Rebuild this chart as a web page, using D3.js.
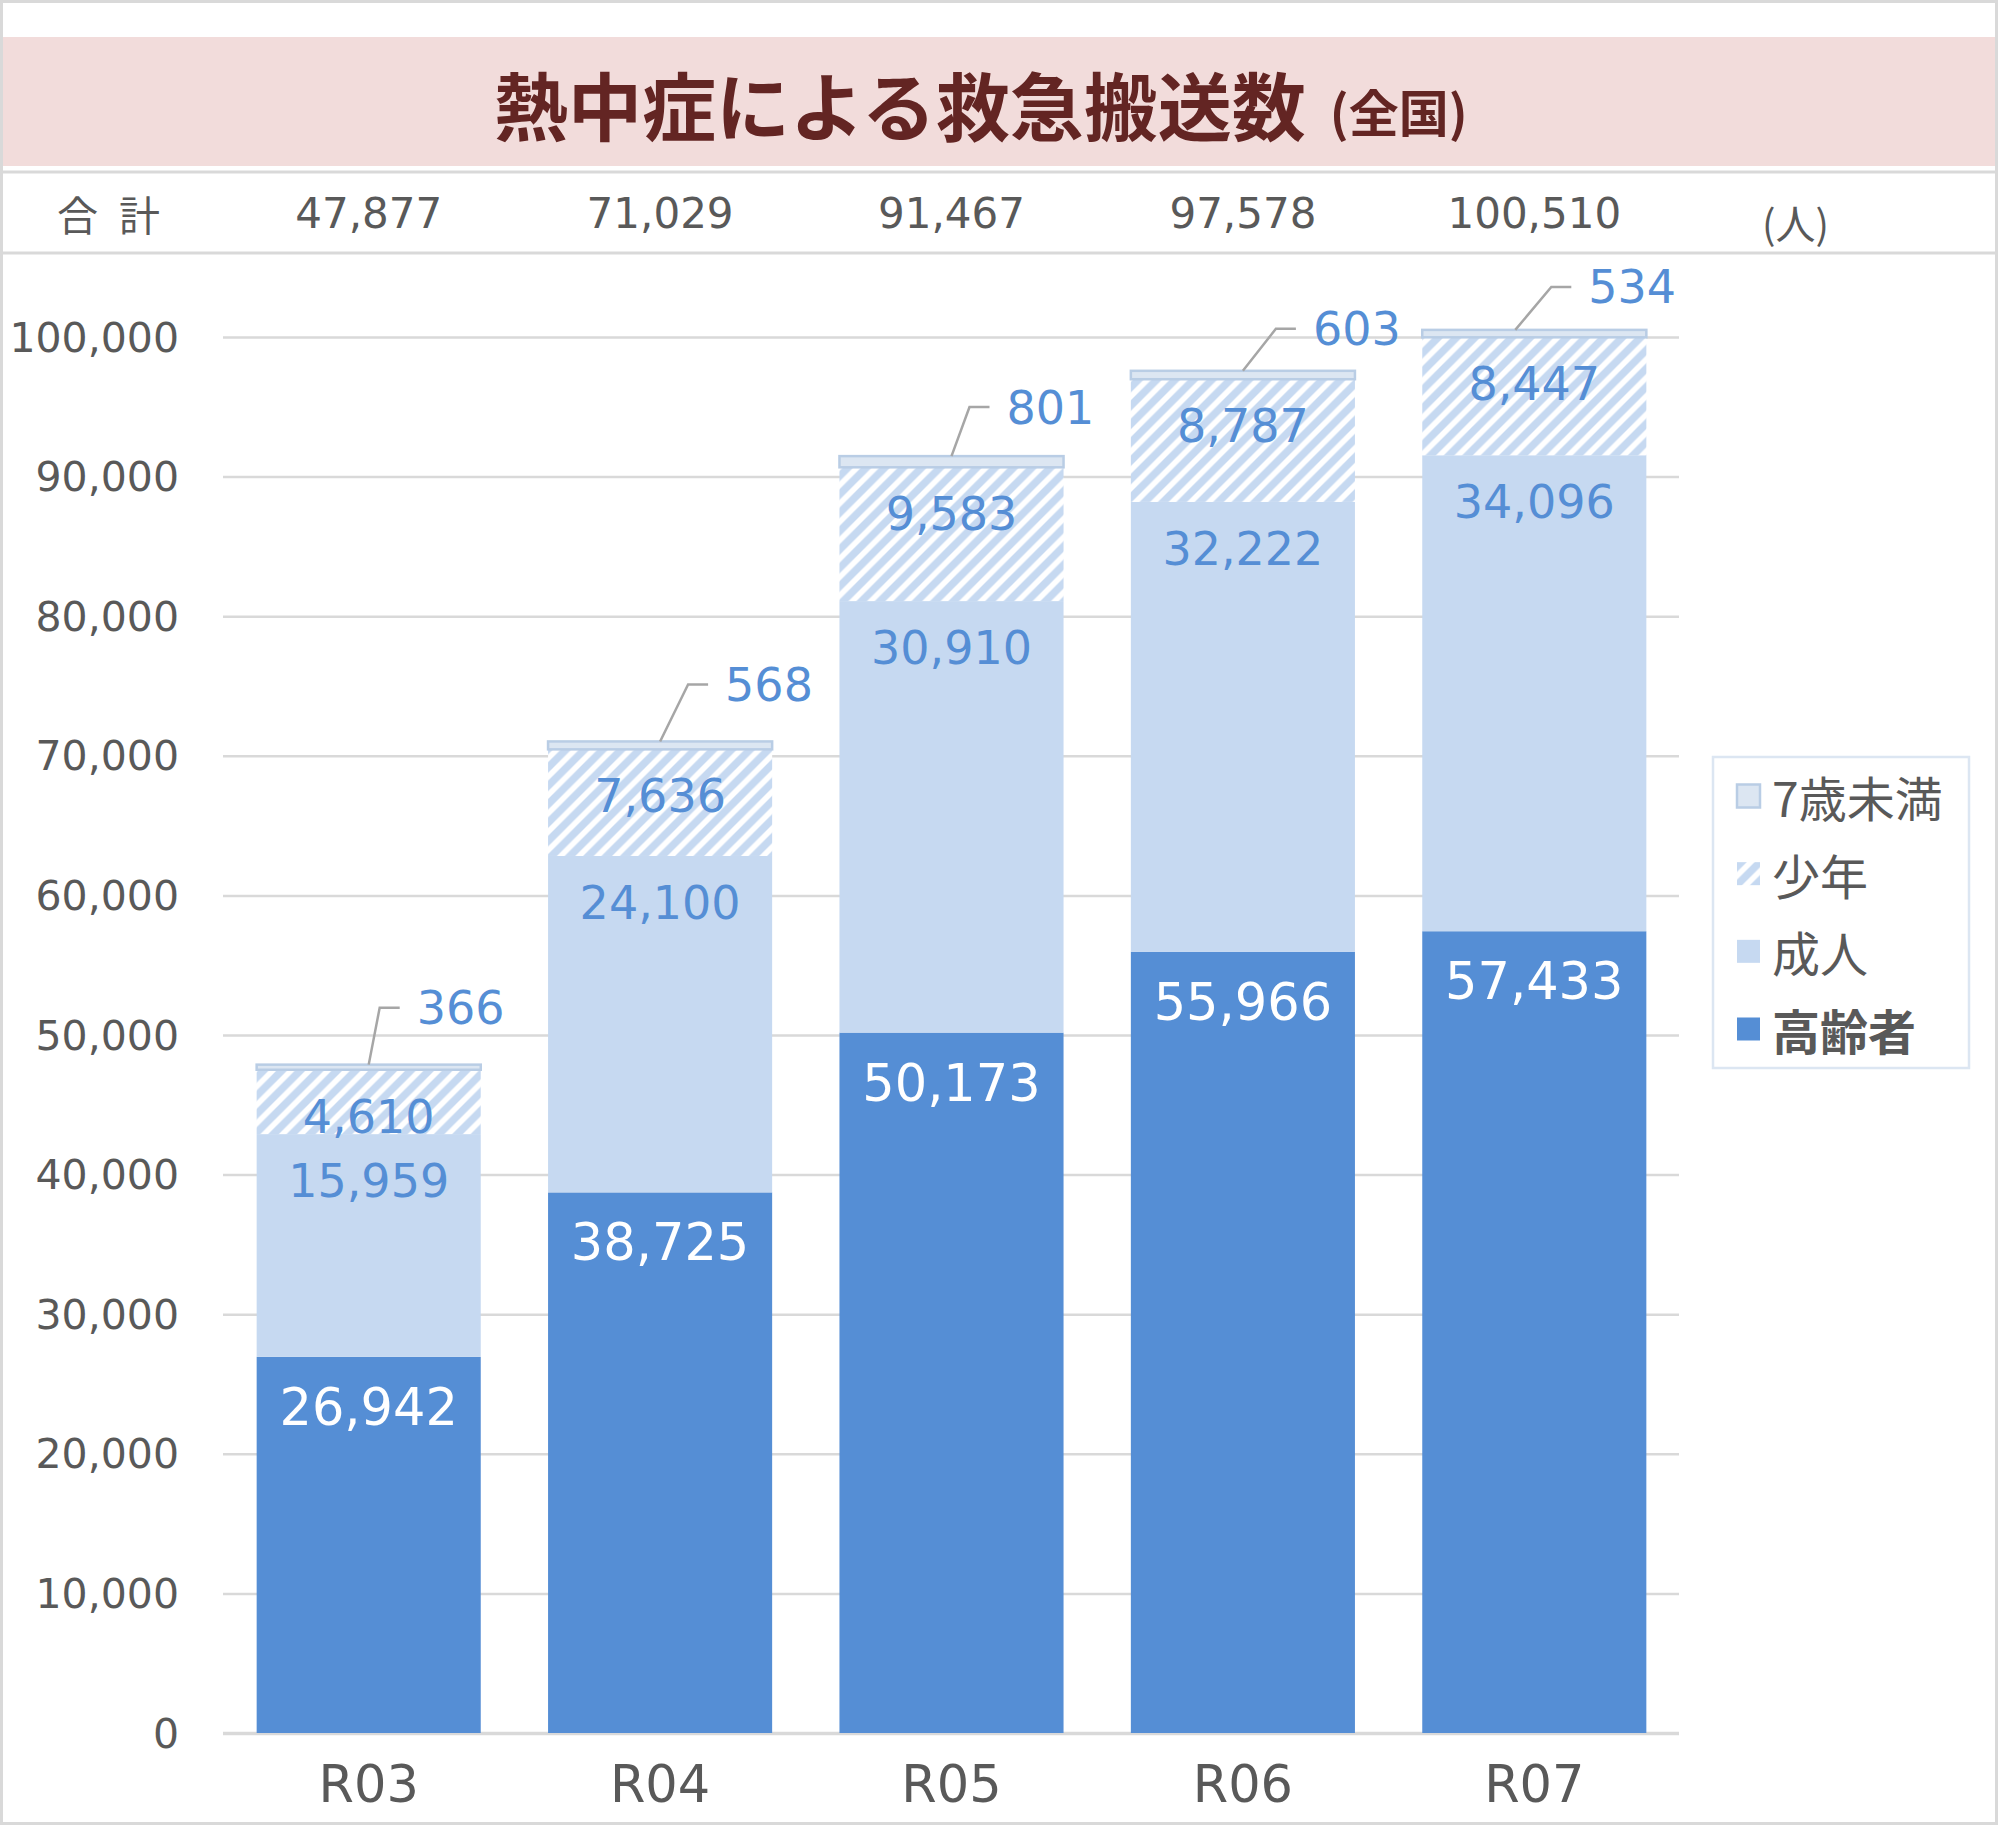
<!DOCTYPE html>
<html>
<head>
<meta charset="utf-8">
<script src="https://cdn.jsdelivr.net/npm/d3@7"></script>
<style>
  html, body { margin: 0; padding: 0; background: #fff; }
  svg { display: block; }
</style>
</head>
<body>
<div id="chart"></div>
<script>
// ---- data ----
const categories = ["R03", "R04", "R05", "R06", "R07"];
const elderly = [26942, 38725, 50173, 55966, 57433];   // 高齢者
const adult   = [15959, 24100, 30910, 32222, 34096];   // 成人
const youth   = [4610, 7636, 9583, 8787, 8447];        // 少年
const infant  = [366, 568, 801, 603, 534];             // 7歳未満
const totals  = [47877, 71029, 91467, 97578, 100510];  // 合計
const seriesKeys = ["高齢者", "成人", "少年", "7歳未満"];
const legendOrder = ["7歳未満", "少年", "成人", "高齢者"];
const yTickValues = [0, 10000, 20000, 30000, 40000, 50000, 60000, 70000, 80000, 90000, 100000];
const titleMain = "熱中症による救急搬送数";
const titleSub = "(全国)";
const unitLabel = "(人)";

// ---- layout (not data) ----
const W = 1998, H = 1825;
const calloutLayout = [ // start dx from bar centre, elbow dx from bar centre, elbow dy from bar top
  {sx: 0, ex: 11, dy: -57},
  {sx: 0, ex: 28, dy: -57},
  {sx: 0, ex: 18, dy: -49},
  {sx: 0, ex: 33, dy: -42},
  {sx: -19, ex: 17, dy: -43}
];
const numFont = "'DejaVu Sans', Verdana, sans-serif";
const jpFont = "'Noto Sans CJK JP', 'Noto Sans', sans-serif";
const grey = "#595959";
const colors = {
  "高齢者": "#558ED5",
  "成人": "#C6D9F1",
  "少年": "url(#hatch)",
  "7歳未満": "#DCE6F2"
};
const labelBlue = "#558ED5";

const rows = categories.map((c, i) => ({
  cat: c,
  "高齢者": elderly[i], "成人": adult[i], "少年": youth[i], "7歳未満": infant[i],
  total: totals[i]
}));

const svg = d3.select("#chart").append("svg")
  .attr("width", W).attr("height", H)
  .attr("viewBox", `0 0 ${W} ${H}`);

const defs = svg.append("defs");
const pat = defs.append("pattern")
  .attr("id", "hatch").attr("patternUnits", "userSpaceOnUse")
  .attr("width", 18.4).attr("height", 18.4);
pat.append("rect").attr("width", 18.4).attr("height", 18.4).attr("fill", "#C6D9F1");
pat.append("path")
  .attr("d", "M0,18.4 L18.4,0 M-9.2,9.2 L9.2,-9.2 M9.2,27.6 L27.6,9.2")
  .attr("stroke", "#ffffff").attr("stroke-width", 5.5);

// frame
svg.append("rect").attr("x", 1.5).attr("y", 1.5).attr("width", W - 3).attr("height", H - 3)
  .attr("fill", "#fff").attr("stroke", "#D9D9D9").attr("stroke-width", 3);

// title band
svg.append("rect").attr("x", 3).attr("y", 37).attr("width", W - 6).attr("height", 129)
  .attr("fill", "#F2DCDB");
svg.append("line").attr("x1", 0).attr("x2", W).attr("y1", 172).attr("y2", 172)
  .attr("stroke", "#D9D9D9").attr("stroke-width", 3);
svg.append("line").attr("x1", 0).attr("x2", W).attr("y1", 253).attr("y2", 253)
  .attr("stroke", "#D9D9D9").attr("stroke-width", 3);

const title = svg.append("text")
  .attr("x", 494).attr("y", 102)
  .attr("dominant-baseline", "central")
  .attr("font-family", jpFont).attr("font-weight", 700)
  .attr("fill", "#632523");
title.append("tspan").attr("font-size", 74).text(titleMain);
title.append("tspan").attr("font-size", 50).attr("font-weight", 700)
  .attr("dx", 24).attr("dy", 8).text(titleSub);

// scales
const x = d3.scaleBand().domain(categories).range([223, 1680])
  .paddingInner(0.231).paddingOuter(0.1155);
const y = d3.scaleLinear().domain([0, 100000]).range([1733, 337]);

// header row: 合計
svg.append("text").attr("x", 57).attr("y", 213).attr("dominant-baseline", "central")
  .attr("font-family", jpFont).attr("font-size", 41).attr("fill", grey).text("合");
svg.append("text").attr("x", 119).attr("y", 213).attr("dominant-baseline", "central")
  .attr("font-family", jpFont).attr("font-size", 41).attr("fill", grey).text("計");
svg.append("g").selectAll("text").data(rows).join("text")
  .attr("x", d => x(d.cat) + x.bandwidth() / 2)
  .attr("y", 228)
  .attr("text-anchor", "middle")
  .attr("font-family", numFont).attr("font-size", 42).attr("fill", grey)
  .text(d => d3.format(",")(d.total));
svg.append("text").attr("x", 1762).attr("y", 222).attr("dominant-baseline", "central")
  .attr("font-family", jpFont).attr("font-size", 40).attr("fill", grey).text(unitLabel);

// gridlines
const yAxis = d3.axisLeft(y).tickValues(yTickValues)
  .tickSize(-(1679 - 223)).tickFormat(d3.format(","));
const gAxis = svg.append("g").attr("transform", "translate(223,0)").call(yAxis);
gAxis.select(".domain").remove();
gAxis.selectAll(".tick line").attr("stroke", "#D9D9D9")
  .attr("stroke-width", d => d === 0 ? 3.5 : 2.5);
gAxis.selectAll(".tick text")
  .attr("x", -44).attr("dy", null).attr("dominant-baseline", "central")
  .attr("font-family", numFont).attr("font-size", 41).attr("fill", grey);

// stack
const stacked = d3.stack().keys(seriesKeys)(rows);

const gBars = svg.append("g");
stacked.forEach(layer => {
  const key = layer.key;
  gBars.append("g").selectAll("rect").data(layer).join("rect")
    .attr("x", d => x(d.data.cat))
    .attr("width", x.bandwidth())
    .attr("y", d => y(d[1]))
    .attr("height", d => y(d[0]) - y(d[1]))
    .attr("fill", colors[key])
    .attr("stroke", key === "7歳未満" ? "#B9CDE5" : "none")
    .attr("stroke-width", key === "7歳未満" ? 2.5 : 0);
});

// inside labels
const fmt = d3.format(",");
stacked.forEach(layer => {
  const key = layer.key;
  if (key === "7歳未満") return;
  const big = key === "高齢者";
  svg.append("g").selectAll("text").data(layer).join("text")
    .attr("x", d => x(d.data.cat) + x.bandwidth() / 2)
    .attr("y", d => y(d[1]) + (big ? 68 : 63))
    .attr("text-anchor", "middle")
    .attr("font-family", numFont)
    .attr("font-size", big ? 51 : 46)
    .attr("fill", big ? "#ffffff" : labelBlue)
    .text(d => fmt(d.data[key]));
});

// callout labels for 7歳未満
const topLayer = stacked.find(l => l.key === "7歳未満");
const gCall = svg.append("g");
topLayer.forEach((d, i) => {
  const cx = x(d.data.cat) + x.bandwidth() / 2;
  const ty = y(d[1]);
  const L = calloutLayout[i];
  const ex = cx + L.ex, ey = ty + L.dy;
  gCall.append("path")
    .attr("d", `M${cx + L.sx},${ty} L${ex},${ey} L${ex + 20},${ey}`)
    .attr("fill", "none").attr("stroke", "#A6A6A6").attr("stroke-width", 2.5);
  gCall.append("text")
    .attr("x", ex + 37).attr("y", ey + 16.5)
    .attr("font-family", numFont).attr("font-size", 46).attr("fill", labelBlue)
    .text(fmt(d.data["7歳未満"]));
});

// x axis labels
svg.append("g").selectAll("text").data(categories).join("text")
  .attr("x", d => x(d) + x.bandwidth() / 2)
  .attr("y", 1802)
  .attr("text-anchor", "middle")
  .attr("font-family", numFont).attr("font-size", 51).attr("fill", grey)
  .text(d => d);

// legend
const lg = svg.append("g");
lg.append("rect").attr("x", 1713).attr("y", 757).attr("width", 256).attr("height", 311)
  .attr("fill", "#fff").attr("stroke", "#DCE6F2").attr("stroke-width", 2.5);
const legY = d3.scalePoint().domain(legendOrder).range([796, 1029]);
legendOrder.forEach(k => {
  const cy = legY(k);
  lg.append("rect").attr("x", 1737).attr("y", cy - 11.5).attr("width", 23).attr("height", 23)
    .attr("fill", colors[k])
    .attr("stroke", k === "7歳未満" ? "#B9CDE5" : "none")
    .attr("stroke-width", k === "7歳未満" ? 2.5 : 0);
  lg.append("text").attr("x", 1772).attr("y", cy)
    .attr("dominant-baseline", "central")
    .attr("font-family", jpFont).attr("font-size", 48)
    .attr("font-weight", k === "高齢者" ? 700 : 400)
    .attr("fill", grey).text(k);
});
</script>
</body>
</html>
